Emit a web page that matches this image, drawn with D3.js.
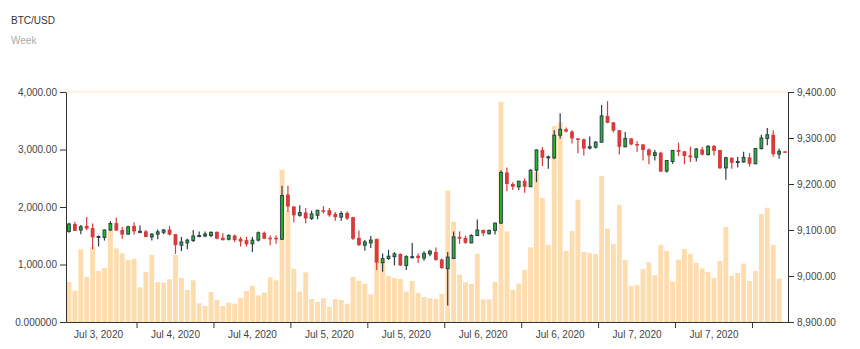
<!DOCTYPE html>
<html>
<head>
<meta charset="utf-8">
<script src="https://cdn.jsdelivr.net/npm/d3@7"></script>
<style>
  html, body { margin: 0; padding: 0; background: #fff; }
  svg { display: block; font-family: "Liberation Sans", Arial, sans-serif; }
</style>
</head>
<body>
<svg id="chart" width="860" height="349"></svg>
<script>
const title = "BTC/USD";
const subtitle = "Week";

const opens = [9097,9113,9100,9109,9104,9085,9084,9100,9115,9100,
9091,9109,9096,9097,9085,9091,9095,9101,9091,9067,
9072,9077,9086,9087,9088,9096,9083,9080,9088,9081,
9078,9070,9078,9094,9083,9083,9080,9177,9151,9132,
9138,9125,9132,9143,9143,9135,9128,9137,9128,9083,
9067,9072,9080,9029,9038,9042,9048,9023,9041,9044,
9039,9048,9052,9036,9016,9038,9085,9083,9072,9088,
9100,9092,9099,9115,9225,9200,9194,9207,9194,9230,
9274,9257,9257,9306,9319,9314,9299,9297,9278,9280,
9291,9348,9334,9317,9281,9299,9287,9286,9275,9262,
9268,9228,9249,9274,9271,9262,9258,9275,9264,9283,
9274,9235,9257,9248,9248,9258,9244,9277,9299,9307,
9265,9271];

const highs = [9116,9118,9111,9128,9114,9088,9101,9119,9127,9107,
9109,9117,9110,9100,9093,9101,9102,9109,9091,9085,
9081,9100,9097,9097,9097,9097,9093,9091,9090,9085,
9085,9085,9097,9097,9088,9088,9196,9196,9152,9154,
9148,9142,9143,9152,9148,9139,9141,9141,9129,9099,
9078,9087,9081,9049,9057,9052,9049,9045,9072,9049,
9054,9057,9062,9038,9052,9097,9097,9088,9091,9123,
9101,9101,9116,9230,9236,9204,9207,9212,9232,9275,
9280,9262,9317,9354,9323,9317,9300,9299,9303,9293,
9372,9380,9335,9317,9313,9300,9293,9287,9277,9274,
9270,9252,9274,9290,9272,9281,9278,9281,9284,9284,
9274,9259,9258,9259,9270,9267,9278,9307,9322,9317,
9277,9271];

const lows = [9094,9098,9091,9100,9058,9064,9077,9098,9098,9081,
9090,9090,9093,9084,9077,9080,9091,9088,9048,9054,
9058,9074,9084,9084,9084,9080,9077,9077,9074,9064,
9064,9052,9075,9080,9067,9070,9078,9139,9117,9129,
9114,9122,9123,9136,9129,9120,9120,9122,9078,9065,
9055,9061,9013,9009,9035,9023,9022,9013,9038,9028,
9033,9043,9033,9016,8936,9038,9070,9070,9071,9087,
9087,9090,9090,9113,9184,9187,9187,9181,9194,9204,
9239,9233,9254,9299,9312,9288,9267,9262,9275,9277,
9290,9332,9312,9264,9280,9284,9270,9251,9243,9251,
9226,9225,9244,9261,9243,9248,9249,9262,9262,9262,
9233,9209,9233,9236,9246,9238,9243,9275,9284,9259,
9255,9270];

const closes = [9113,9098,9107,9103,9084,9086,9100,9114,9099,9090,
9107,9097,9097,9085,9091,9096,9100,9090,9067,9074,
9078,9087,9088,9091,9095,9081,9078,9088,9078,9075,
9069,9078,9094,9081,9081,9080,9175,9151,9132,9138,
9125,9135,9143,9141,9132,9128,9136,9125,9081,9067,
9074,9078,9029,9038,9043,9048,9023,9042,9042,9039,
9049,9054,9035,9017,9041,9085,9081,9072,9088,9100,
9093,9099,9115,9225,9200,9194,9206,9194,9230,9274,
9257,9259,9306,9319,9314,9299,9296,9277,9281,9291,
9348,9333,9316,9281,9299,9286,9284,9274,9262,9268,
9227,9251,9273,9270,9261,9258,9276,9264,9282,9272,
9234,9257,9246,9249,9258,9244,9277,9300,9307,9265,
9271,9270];

const volumes = [696,545,1264,783,1304,887,939,1600,1281,1194,
1078,1096,603,870,1165,690,684,742,1165,765,
557,725,325,278,522,383,278,336,319,417,
539,626,464,510,777,725,2649,1936,922,528,
864,400,348,412,267,400,383,319,783,719,
667,481,1461,1078,800,765,748,528,713,504,
435,412,400,487,2284,1745,823,690,661,1188,
394,394,696,3832,1577,557,667,905,1298,2609,
2157,1339,3409,3473,1235,1583,2127,1217,1200,1183,
2539,1623,1357,2035,1078,626,644,922,1038,812,
1339,1235,702,1084,1270,1188,1026,933,870,765,
1061,1652,806,852,1015,713,887,1878,1988,1339,
754,0];

const xLabelIndex = [5,18,31,44,57,70,83,96,109];
const xLabels = ["Jul 3, 2020","Jul 4, 2020","Jul 4, 2020","Jul 5, 2020","Jul 5, 2020","Jul 6, 2020","Jul 6, 2020","Jul 7, 2020","Jul 7, 2020"];
const volTicks = [0,1000,2000,3000,4000];
const volTickLabels = ["0.000000","1,000.00","2,000.00","3,000.00","4,000.00"];
const priceTicks = [8900,9000,9100,9200,9300,9400];
const priceTickLabels = ["8,900.00","9,000.00","9,100.00","9,200.00","9,300.00","9,400.00"];

const n = opens.length;
const L = 66, R = 788, T = 92, B = 322;
const svg = d3.select("#chart");

const x = d3.scaleBand().domain(d3.range(n)).range([L, R]).paddingInner(0.18).paddingOuter(0.09);
const step = x.step();
const yVol = d3.scaleLinear().domain([0, 4000]).range([B, T]);
const yPrice = d3.scaleLinear().domain([8900, 9400]).range([B, T]);

// titles
svg.append("text").attr("x", 11).attr("y", 24).attr("font-size", 10).attr("fill", "#333").text(title);
svg.append("text").attr("x", 11).attr("y", 44).attr("font-size", 10).attr("fill", "#aaa").text(subtitle);

// faint top band
svg.append("rect").attr("x", L).attr("y", T - 2).attr("width", R - L).attr("height", 3).attr("fill", "#fff4e8");

// volume bars
svg.append("g").selectAll("rect").data(volumes).join("rect")
  .attr("x", (d, i) => x(i))
  .attr("width", x.bandwidth())
  .attr("y", d => yVol(d))
  .attr("height", d => B - yVol(d))
  .attr("fill", "#ffdcae")
  .attr("opacity", d => d > 0 ? 1 : 0);

// candles
const upColor = "#22bb22", upStroke = "#2e3d4c", downColor = "#d63b3d";
const bodyW = step * 0.64;
const cg = svg.append("g");
d3.range(n).forEach(i => {
  const o = opens[i], c = closes[i], h = highs[i], l = lows[i];
  const up = c >= o;
  const cx = x(i) + x.bandwidth() / 2;
  const g = cg.append("g");
  g.append("line")
    .attr("x1", cx).attr("x2", cx)
    .attr("y1", yPrice(h)).attr("y2", yPrice(l))
    .attr("stroke", up ? upStroke : downColor)
    .attr("stroke-width", 1.2);
  const yTop = yPrice(Math.max(o, c)), yBot = yPrice(Math.min(o, c));
  if (up) {
    g.append("rect")
      .attr("x", cx - bodyW / 2 + 0.5).attr("width", bodyW - 1)
      .attr("y", yTop).attr("height", Math.max(1, yBot - yTop))
      .attr("fill", upColor).attr("stroke", upStroke).attr("stroke-width", 1);
  } else {
    g.append("rect")
      .attr("x", cx - bodyW / 2).attr("width", bodyW)
      .attr("y", yTop).attr("height", Math.max(1.5, yBot - yTop))
      .attr("fill", downColor);
  }
});

// axes
function styleAxis(g) {
  g.selectAll("path.domain").attr("stroke", "#333");
  g.selectAll(".tick line").attr("stroke", "#333");
  g.selectAll(".tick text").attr("fill", "#444").attr("font-size", 10)
    .attr("font-family", "'Liberation Sans', Arial, sans-serif");
}

const gl = svg.append("g").attr("transform", `translate(${L},0)`)
  .call(d3.axisLeft(yVol).tickValues(volTicks).tickFormat((d, i) => volTickLabels[i]).tickSizeOuter(0));
styleAxis(gl);

const gr = svg.append("g").attr("transform", `translate(${R},0)`)
  .call(d3.axisRight(yPrice).tickValues(priceTicks).tickFormat((d, i) => priceTickLabels[i]).tickSizeOuter(0));
styleAxis(gr);

const gb = svg.append("g").attr("transform", `translate(0,${B})`)
  .call(d3.axisBottom(x).tickValues(xLabelIndex).tickFormat((d, i) => xLabels[i]).tickSizeOuter(0));
gb.selectAll(".tick line").attr("x1", step * 6.5).attr("x2", step * 6.5);
styleAxis(gb);
</script>
</body>
</html>
